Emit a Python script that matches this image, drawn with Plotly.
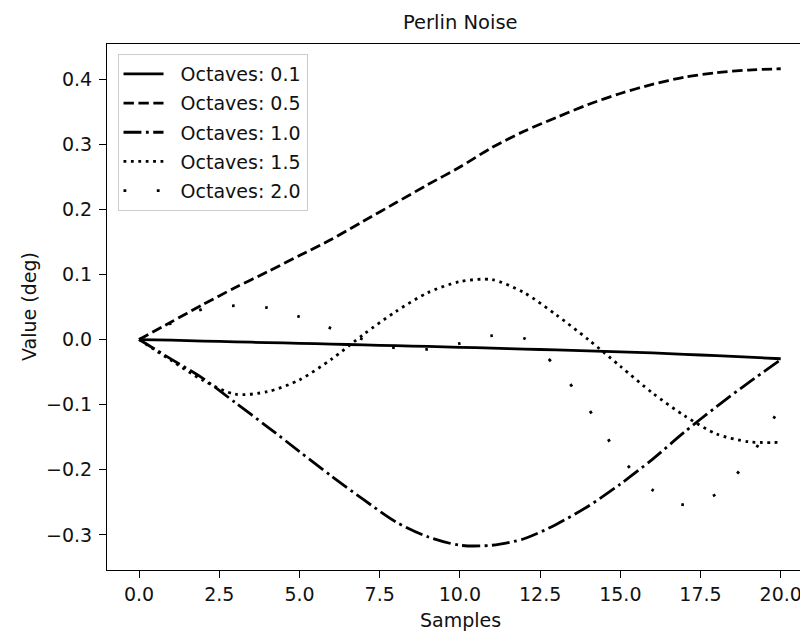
import plotly.graph_objects as go

samples = list(range(21))

oct_01 = [0.0, -0.0010, -0.0023, -0.0035, -0.0047, -0.0058, -0.0070, -0.0082, -0.0094, -0.0106,
          -0.0119, -0.0132, -0.0146, -0.0160, -0.0175, -0.0190, -0.0206, -0.0227, -0.0248, -0.0270, -0.0295]
oct_05 = [0.0, 0.027, 0.054, 0.080, 0.104, 0.129, 0.154, 0.182, 0.210, 0.238,
          0.265, 0.295, 0.320, 0.341, 0.361, 0.378, 0.392, 0.403, 0.410, 0.414, 0.416]
oct_10 = [0.0, -0.030, -0.060, -0.097, -0.134, -0.172, -0.210, -0.246, -0.280, -0.303,
          -0.316, -0.316, -0.306, -0.284, -0.256, -0.222, -0.184, -0.142, -0.103, -0.066, -0.031]
oct_15 = [0.0, -0.032, -0.063, -0.084, -0.080, -0.062, -0.030, 0.008, 0.043, 0.072,
          0.089, 0.092, 0.072, 0.038, 0.000, -0.041, -0.082, -0.117, -0.145, -0.157, -0.158]
oct_20 = [0.0, 0.025, 0.047, 0.052, 0.049, 0.035, 0.017, 0.000, -0.013, -0.015,
          -0.006, 0.006, 0.002, -0.042, -0.106, -0.180, -0.231, -0.254, -0.237, -0.184, -0.102]

labels = ["Octaves: 0.1", "Octaves: 0.5", "Octaves: 1.0", "Octaves: 1.5", "Octaves: 2.0"]
series = [oct_01, oct_05, oct_10, oct_15, oct_20]
dashes = ["solid", "10.4px,4.5px", "17.9px,4.5px,2.8px,4.5px", "2.8px,4.6px", "2.8px,30.5px"]

x_ticks = [0, 2.5, 5, 7.5, 10, 12.5, 15, 17.5, 20]
y_ticks = [-0.3, -0.2, -0.1, 0.0, 0.1, 0.2, 0.3, 0.4]

FONT = "DejaVu Sans"
FS = 19
PAD = "\u00a0\u00a0"  # gap between legend line sample and its label

fig = go.Figure()
for i, (lab, ys, d) in enumerate(zip(labels, series, dashes)):
    fig.add_trace(go.Scatter(
        x=samples, y=ys, mode="lines", name=PAD + lab,
        line=dict(color="black", width=2.8, dash=d, shape="spline", smoothing=0.8),
        legendgroup=f"g{i}",
    ))

# page body has an 8px margin: figure is 800x624 placed at (8, 8)
fig.update_layout(
    width=800, height=624,
    margin=dict(l=98.5, r=0, t=36, b=62, autoexpand=False),
    paper_bgcolor="white", plot_bgcolor="white",
    font=dict(family=FONT, size=FS, color="black"),
    showlegend=True,
    legend=dict(
        x=0.015, y=0.981, xanchor="left", yanchor="top",
        bgcolor="rgba(255,255,255,0.8)", bordercolor="#cccccc", borderwidth=1,
        font=dict(family=FONT, size=FS, color="#111111"),
        tracegroupgap=1.5, itemwidth=40,
    ),
    xaxis=dict(
        range=[-1, 20.85], tickmode="array", tickvals=x_ticks, tickformat=".1f",
        showgrid=False, zeroline=False, showline=True, linecolor="black", linewidth=1.4,
        mirror=True, ticks="outside", ticklen=6.8, tickwidth=1.4, tickcolor="black",
        tickfont=dict(family=FONT, size=FS, color="#111111"),
    ),
    yaxis=dict(
        range=[-0.354, 0.454], tickmode="array", tickvals=y_ticks, tickformat=".1f",
        showgrid=False, zeroline=False, showline=True, linecolor="black", linewidth=1.4,
        mirror=False, ticks="outside", ticklen=6.8, tickwidth=1.4, tickcolor="black",
        tickfont=dict(family=FONT, size=FS, color="#111111"), ticklabelstandoff=3,
    ),
    annotations=[
        dict(text="Perlin Noise", xref="paper", yref="paper", x=0.504, y=1, yshift=22,
             xanchor="center", yanchor="middle", showarrow=False,
             font=dict(family=FONT, size=FS + 0.5, color="#111111")),
        dict(text="Samples", xref="paper", yref="paper", x=0.504, y=0, yshift=-50,
             xanchor="center", yanchor="middle", showarrow=False,
             font=dict(family=FONT, size=FS, color="#111111")),
        dict(text="Value (deg)", xref="paper", yref="paper", x=0, xshift=-78, y=0.5,
             xanchor="center", yanchor="middle", showarrow=False, textangle=-90,
             font=dict(family=FONT, size=FS, color="#111111")),
    ],
)

fig.write_html("out.html")
